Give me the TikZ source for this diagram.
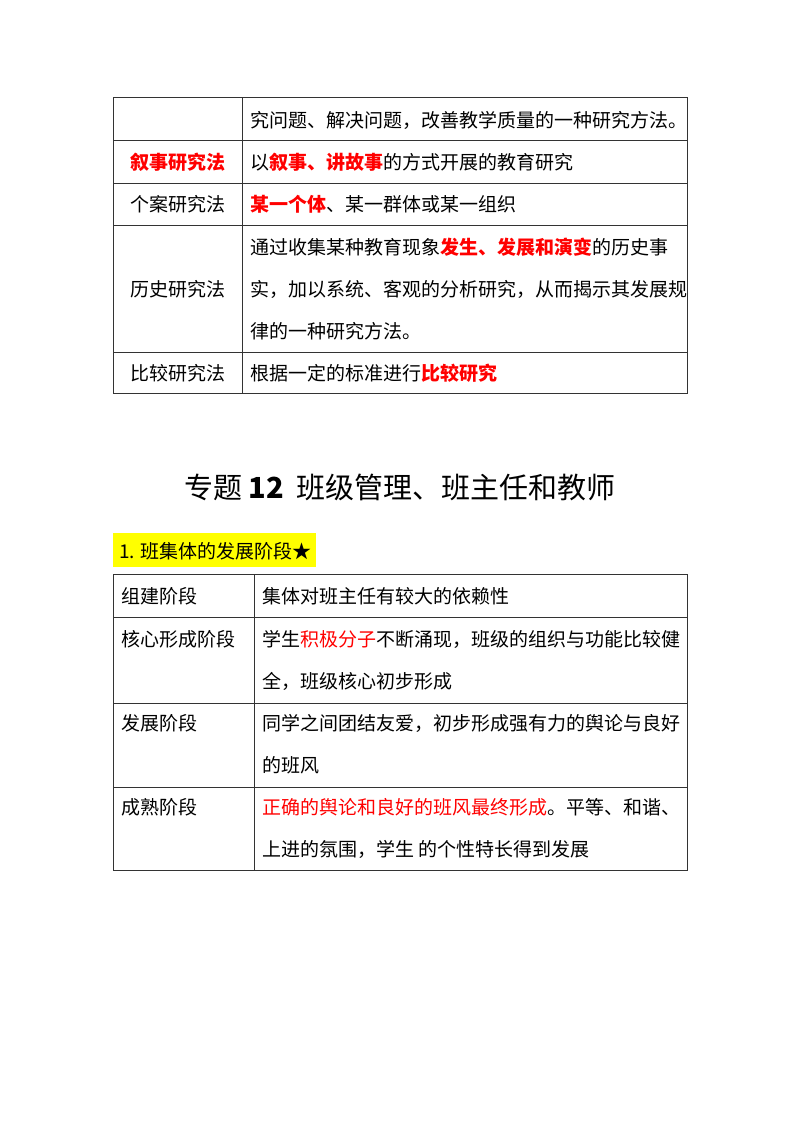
\documentclass[tikz,border=0pt]{standalone}
\usepackage{fontspec}
\setmainfont{Noto Sans CJK SC}
\definecolor{hlred}{RGB}{255,0,0}
\definecolor{hlyel}{RGB}{255,255,0}
\begin{document}
\begin{tikzpicture}[x=1pt,y=-1pt,
  txt/.style={anchor=west,inner sep=0,font=\fontsize{19}{22}\selectfont},
  ctr/.style={anchor=center,inner sep=0,font=\fontsize{19}{22}\selectfont},
  grid/.style={line width=0.8pt,draw=black!80}]
\useasboundingbox (0,0) rectangle (800,1132);
\fill[white] (0,0) rectangle (800,1132);
% table 1
\draw[grid] (113,97) rectangle (687,393);
\foreach \y in {140,183,225,352} \draw[grid] (113,\y) -- (687,\y);
\draw[grid] (242,97) -- (242,393);
\node[txt] (a1) at (250,120) {究问题、解决问题，改善教学质量的一种研究方法。};
\node[ctr,text=hlred] (k2) at (178,162) {\bfseries 叙事研究法};
\node[txt] (a2) at (250,162) {以\textcolor{hlred}{\bfseries 叙事、讲故事}的方式开展的教育研究};
\node[ctr] (k3) at (178,204) {个案研究法};
\node[txt] (a3) at (250,204) {\textcolor{hlred}{\bfseries 某一个体}、某一群体或某一组织};
\node[ctr] (k4) at (178,289) {历史研究法};
\node[txt] (a4a) at (250,247) {通过收集某种教育现象\textcolor{hlred}{\bfseries 发生、发展和演变}的历史事};
\node[txt] (a4b) at (250,289) {实，加以系统、客观的分析研究，从而揭示其发展规};
\node[txt] (a4c) at (250,331) {律的一种研究方法。};
\node[ctr] (k5) at (178,373) {比较研究法};
\node[txt] (a5) at (250,373) {根据一定的标准进行\textcolor{hlred}{\bfseries 比较研究}};
% title
\node[anchor=center,inner sep=0,font=\fontsize{29}{32}\selectfont] (title) at (400,487) {专题 \textbf{12}\ \ 班级管理、班主任和教师};
% highlight
\fill[hlyel] (113,533) rectangle (316,567);
\node[txt] (h) at (119,551) {1. 班集体的发展阶段★};
% table 2
\draw[grid] (113,574) rectangle (687,870);
\foreach \y in {617,703,787} \draw[grid] (113,\y) -- (687,\y);
\draw[grid] (254,574) -- (254,870);
\node[txt] (b1) at (121,596) {组建阶段};
\node[txt] (c1) at (262,596) {集体对班主任有较大的依赖性};
\node[txt] (b2) at (121,639) {核心形成阶段};
\node[txt] (c2a) at (262,639) {学生\textcolor{hlred}{积极分子}不断涌现，班级的组织与功能比较健};
\node[txt] (c2b) at (262,681) {全，班级核心初步形成};
\node[txt] (b3) at (121,723) {发展阶段};
\node[txt] (c3a) at (262,723) {同学之间团结友爱，初步形成强有力的舆论与良好};
\node[txt] (c3b) at (262,765) {的班风};
\node[txt] (b4) at (121,807) {成熟阶段};
\node[txt] (c4a) at (262,807) {\textcolor{hlred}{正确的舆论和良好的班风最终形成}。平等、和谐、};
\node[txt] (c4b) at (262,849) {上进的氛围，学生\ 的个性特长得到发展};
\end{tikzpicture}
\end{document}
